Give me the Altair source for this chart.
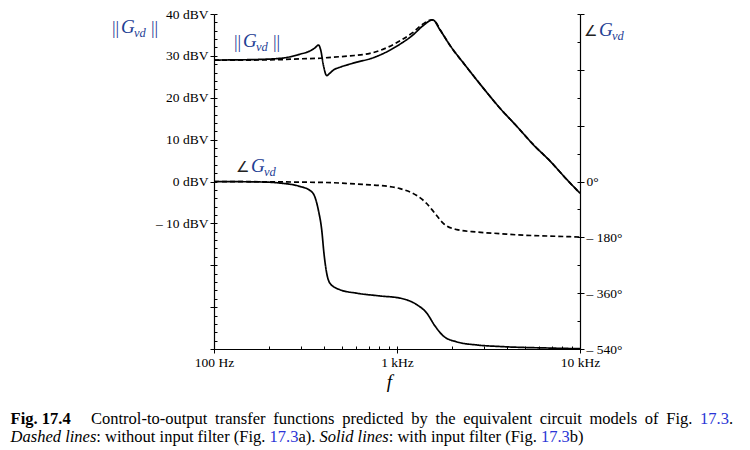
import altair as alt
import pandas as pd

# ---------------- data ----------------
# magnitude, without input filter (dashed)  [Hz], [dBV]
mag_dashed_f = [100, 157, 229, 295, 364, 449, 554, 712, 807, 1039, 1223, 1387, 1548, 1620,
                1718, 1949, 2404, 2962, 3654, 4510, 5557, 6855, 8460, 10000]
mag_dashed_db = [29.0, 29.0, 29.1, 29.3, 29.4, 29.7, 30.0, 30.6, 31.3, 33.6, 35.6, 37.6, 38.6, 38.2,
                 36.3, 32.5, 27.3, 22.3, 17.5, 13.2, 8.8, 4.9, 0.5, -2.8]
# magnitude, with input filter (solid)
mag_solid_f = [100, 157, 229, 295, 335, 356, 372, 383, 396, 413, 430, 449, 488, 531, 602, 712, 807,
               1039, 1223, 1387, 1567, 1718, 1949, 2404, 2962, 3654, 4510, 5557, 6855, 8460, 10000]
mag_solid_db = [29.0, 29.1, 29.4, 30.4, 31.2, 31.9, 32.6, 31.4, 27.8, 25.3, 25.9, 26.6, 27.3, 27.8,
                28.5, 29.3, 30.2, 32.8, 35.0, 37.2, 38.6, 36.2, 32.5, 27.3, 22.3, 17.5, 13.2, 8.8,
                4.9, 0.5, -2.8]
# phase, without input filter (dashed)  [deg]
ph_dashed_f = [100, 195, 295, 449, 554, 712, 807, 1039, 1282, 1453, 1614, 1791, 2120, 2726,
               3654, 4510, 6855, 10000]
ph_dashed_deg = [0, -1, -2, -4, -7, -11, -13, -23, -45, -71, -103, -135, -155, -163,
                 -168, -172, -176, -179]
# phase, with input filter (solid)
ph_solid_f = [100, 195, 229, 295, 335, 356, 372, 388, 399, 413, 430, 488, 602, 807, 1039, 1282,
              1453, 1614, 1791, 2120, 2726, 3654, 6855, 10000]
ph_solid_deg = [0, -2, -5, -16, -29, -50, -93, -157, -232, -296, -328, -349, -360, -369, -376,
                -397, -424, -466, -498, -517, -527, -532, -537, -539]

x_major = [100, 1000, 10000]
x_minor = [100, 200, 300, 400, 500, 600, 700, 800, 900, 1000, 2000, 3000, 4000, 5000, 6000,
           7000, 8000, 9000, 10000]
mag_ticks = list(range(-40, 41, 10))
mag_minor = list(range(-40, 41, 2))
ph_ticks = list(range(-540, 541, 180))
ph_minor = list(range(-540, 541, 90))

caption1_bold = "Fig. 17.4"
caption1_words = ["Control-to-output", "transfer", "functions", "predicted", "by", "the",
                  "equivalent", "circuit", "models", "of", "Fig."]
caption1_ref = "17.3"
caption2 = [("Dashed lines", "italic", "black"), (": without input filter (Fig.\u00a0", "normal", "black"),
            ("17.3", "normal", "blue"), ("a). ", "normal", "black"),
            ("Solid lines", "italic", "black"), (": with input filter (Fig.\u00a0", "normal", "black"),
            ("17.3", "normal", "blue"), ("b)", "normal", "black")]

# ---------------- layout ----------------
W, H = 366, 335
X0, Y0 = 214, 14          # page position of plot origin
serif = "Liberation Serif"
navy = "#1f3f95"
link = "#2b35d6"
CAP = 16.5
TICKFS = 13.5

# Times (Liberation Serif) advance widths, 1/1000 em
TW = {' ': 250, '\u00a0': 250, '-': 333, '.': 250, ':': 278, '(': 333, ')': 333,
      'a': 444, 'b': 500, 'c': 444, 'd': 500, 'e': 444, 'f': 333, 'g': 500, 'h': 500, 'i': 278,
      'l': 278, 'm': 778, 'n': 500, 'o': 500, 'p': 500, 'q': 500, 'r': 333, 's': 389, 't': 278,
      'u': 500, 'v': 500, 'w': 722, 'y': 500, 'C': 667, 'D': 722, 'F': 556, 'S': 556}
TWI = dict(TW, S=500, a=500)


def width(s, size, italic=False):
    tb = TWI if italic else TW
    return sum(tb.get(c, 500) for c in s) * size / 1000.0


mag_df = pd.concat([
    pd.DataFrame({"f": mag_dashed_f, "v": mag_dashed_db, "s": "without"}),
    pd.DataFrame({"f": mag_solid_f, "v": mag_solid_db, "s": "with"}),
])
ph_df = pd.concat([
    pd.DataFrame({"f": ph_dashed_f, "v": ph_dashed_deg, "s": "without"}),
    pd.DataFrame({"f": ph_solid_f, "v": ph_solid_deg, "s": "with"}),
])

xscale = alt.Scale(type="log", domain=[100, 10000], nice=False)
mag_scale = alt.Scale(domain=[-40, 40], nice=False, zero=False)
ph_scale = alt.Scale(domain=[-540, 540], nice=False, zero=False)
dash = alt.StrokeDash("s:N", scale=alt.Scale(domain=["without", "with"], range=[[5, 3], [1, 0]]),
                      legend=None)

common = dict(labelFont=serif, labelFontSize=TICKFS, labelColor="black", tickColor="black",
              domainColor="black", grid=False, labelFlush=False, tickWidth=1, domainWidth=1.2)

x_axis = alt.Axis(orient="bottom", values=x_major, tickSize=4, labelPadding=2,
                  labelExpr="datum.value == 100 ? '100 Hz' : datum.value == 1000 ? '1 kHz' : '10 kHz'",
                  title="f", titleFont=serif, titleFontStyle="italic", titleFontWeight="normal",
                  titleFontSize=19, titlePadding=4, titleColor="black", titleX=175, **common)
mag_axis = alt.Axis(orient="left", values=mag_ticks, tickSize=4, labelPadding=2, title=None,
                    labelExpr="datum.value >= -10 ? (datum.value < 0 ? '\u2013 ' + abs(datum.value) + ' dBV' : datum.value + ' dBV') : ''",
                    **common)
ph_axis = alt.Axis(orient="right", values=ph_ticks, tickSize=4, labelPadding=2, title=None,
                   labelExpr="datum.value == 0 ? '0\u00b0' : (datum.value < 0 ? '\u2013 ' + abs(datum.value) + '\u00b0' : '')",
                   **common)

mag = alt.Chart(mag_df).mark_line(interpolate="monotone", color="black", strokeWidth=1.7).encode(
    x=alt.X("f:Q", scale=xscale, axis=x_axis),
    y=alt.Y("v:Q", scale=mag_scale, axis=mag_axis),
    strokeDash=dash,
)
mag_in = alt.Chart(mag_df).mark_line(opacity=0).encode(
    x=alt.X("f:Q", scale=xscale, axis=alt.Axis(orient="top", offset=-H, values=x_minor, labels=False,
                                               domain=False, tickSize=3, tickColor="black",
                                               grid=False, title=None)),
    y=alt.Y("v:Q", scale=mag_scale, axis=alt.Axis(orient="right", offset=-W, values=mag_minor,
                                                 labels=False, domain=False, tickSize=3,
                                                 tickColor="black", grid=False, title=None)),
    detail="s:N",
)
ph = alt.Chart(ph_df).mark_line(interpolate="monotone", color="black", strokeWidth=1.7).encode(
    x=alt.X("f:Q", scale=xscale, axis=None),
    y=alt.Y("v:Q", scale=ph_scale, axis=ph_axis),
    strokeDash=dash,
)
ph_in = alt.Chart(ph_df).mark_line(opacity=0).encode(
    x=alt.X("f:Q", scale=xscale, axis=None),
    y=alt.Y("v:Q", scale=ph_scale, axis=alt.Axis(orient="left", offset=-W, values=ph_minor,
                                                labels=False, domain=False, tickSize=3,
                                                tickColor="black", grid=False, title=None)),
    detail="s:N",
)


def txt(s, px, py, size, color="black", style="normal", weight="normal", font=serif):
    return alt.Chart(pd.DataFrame({"t": [s]})).mark_text(
        align="left", baseline="alphabetic", font=font, fontSize=size, fontStyle=style,
        fontWeight=weight, color=color).encode(
        x=alt.value(px - X0), y=alt.value(py - Y0), text="t:N")


def norm_label(px, py):
    return [txt("||", px, py + 1, 18, navy), txt("G", px + 9, py, 19, navy, "italic"),
            txt("vd", px + 22, py + 4, 12.5, navy, "italic"), txt("||", px + 39, py + 1, 18, navy)]


def angle_label(px, py):
    return [txt("\u2220", px, py, 15, "#222222", font="DejaVu Sans"),
            txt("G", px + 15, py, 19, navy, "italic"),
            txt("vd", px + 28, py + 4, 12.5, navy, "italic")]


texts = []
texts += norm_label(112, 33)
texts += norm_label(234, 47)
texts += angle_label(236, 172)
texts += angle_label(584, 36)

# caption line 1 (justified)
texts.append(txt(caption1_bold, 10.6, 424, CAP, weight="bold"))
left, right = 91.0, 733.0
words_w = [width(w, CAP) for w in caption1_words] + [width(caption1_ref + ".", CAP)]
gap = (right - left - sum(words_w)) / len(caption1_words)
cx = left
for w, ww in zip(caption1_words, words_w):
    texts.append(txt(w, cx, 424, CAP))
    cx += ww + gap
texts.append(txt(caption1_ref, cx, 424, CAP, link))
texts.append(txt(".", cx + width(caption1_ref, CAP), 424, CAP))

# caption line 2
cx = 10.6
for s, st, col in caption2:
    texts.append(txt(s, cx, 442, CAP, link if col == "blue" else "black", st))
    cx += width(s, CAP, st == "italic")

chart = alt.layer(mag, mag_in, ph, ph_in, *texts).resolve_scale(
    y="independent").resolve_axis(x="independent", y="independent").properties(
    width=W, height=H, autosize=alt.AutoSizeParams(type="none"),
    padding={"left": X0 - 8, "top": Y0 - 8, "right": 734 - (X0 - 8) - W, "bottom": 438 - (Y0 - 8) - H},
    background="white",
).configure_view(stroke=None)

chart.save("out.html", embed_options={"renderer": "svg", "actions": False})
